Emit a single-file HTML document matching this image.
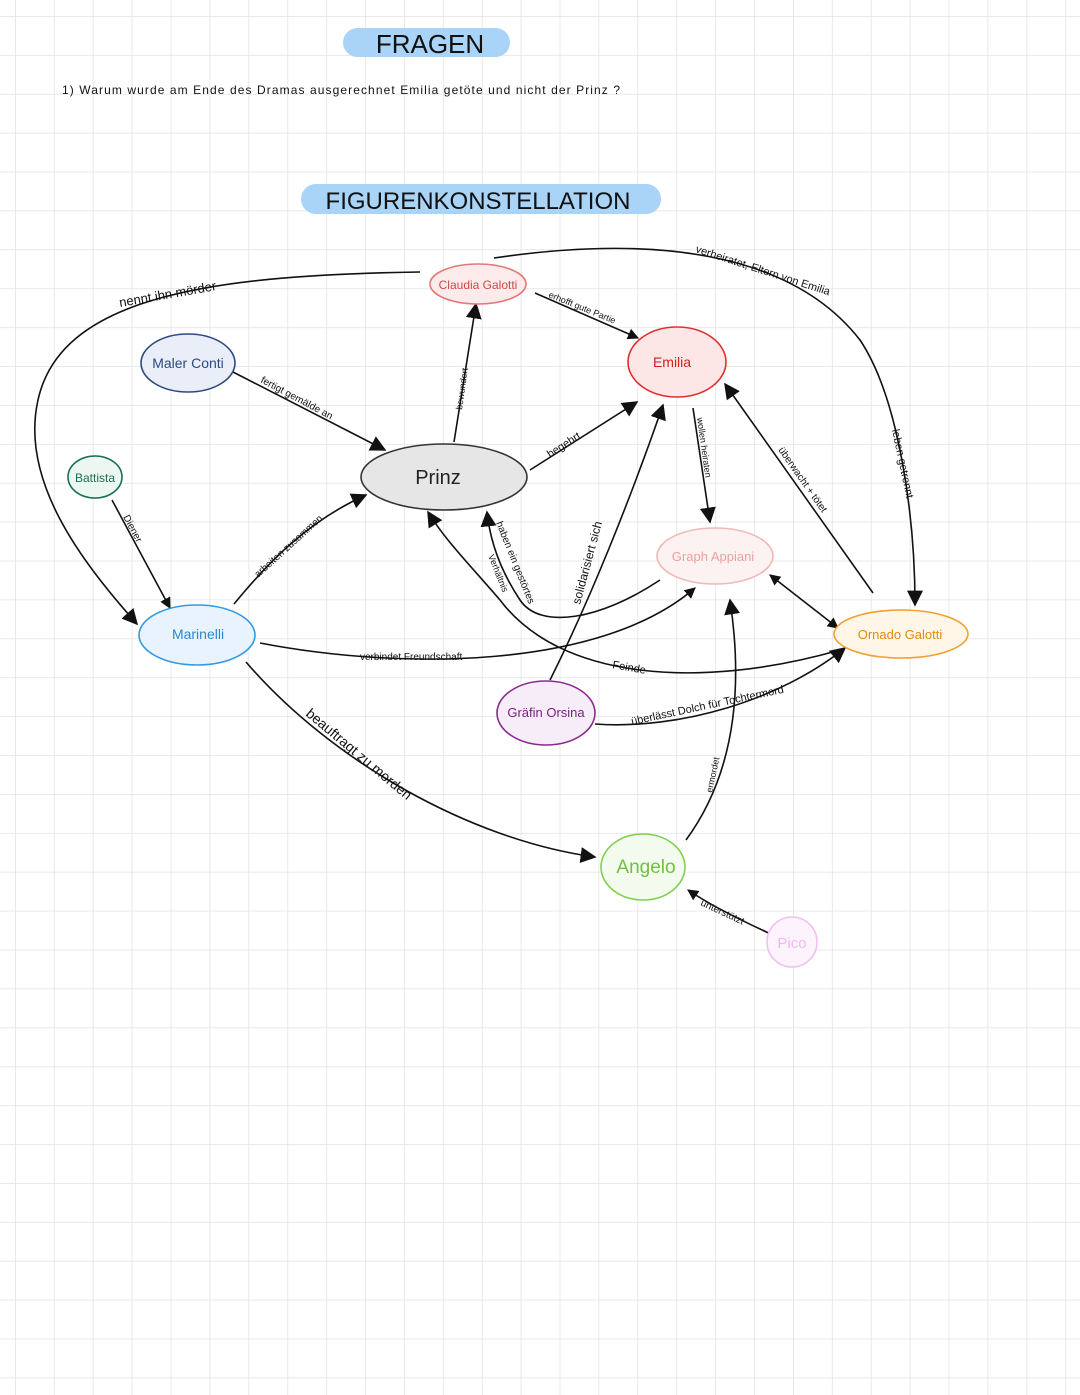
<!DOCTYPE html>
<html><head><meta charset="utf-8"><style>
html,body{margin:0;padding:0;background:#fff}
svg{display:block}
text{font-family:"Liberation Sans",sans-serif}
</style></head><body>
<svg width="1080" height="1395" viewBox="0 0 1080 1395" xmlns="http://www.w3.org/2000/svg">
<defs>
<pattern id="g" x="15" y="16" width="38.9" height="38.9" patternUnits="userSpaceOnUse">
<path d="M0 0H38.9M0 0V38.9" stroke="#e2e2e2" stroke-width="1.5" fill="none"/>
</pattern>
<marker id="a" viewBox="0 0 10 10" refX="9" refY="5" markerWidth="7" markerHeight="7" orient="auto-start-reverse"><path d="M0 0L10 5L0 10z" fill="#111"/></marker>
<marker id="b" viewBox="0 0 10 10" refX="9" refY="5" markerWidth="10" markerHeight="10" orient="auto-start-reverse"><path d="M0 0L10 5L0 10z" fill="#111"/></marker>
</defs>
<rect width="1080" height="1395" fill="#fff"/>
<rect width="1080" height="1395" fill="url(#g)"/>

<rect x="343" y="28" width="167" height="29" rx="14.5" fill="#a9d3f7"/>
<text x="430" y="53" font-size="26" text-anchor="middle" fill="#111">FRAGEN</text>
<text x="62" y="94" font-size="12" fill="#111" textLength="558" lengthAdjust="spacing">1) Warum  wurde   am  Ende  des Dramas   ausgerechnet   Emilia   getöte   und   nicht   der  Prinz ?</text>
<rect x="301" y="184" width="360" height="30" rx="15" fill="#a9d3f7"/>
<text x="478" y="209" font-size="24" text-anchor="middle" fill="#111">FIGURENKONSTELLATION</text>

<g fill="none" stroke="#111" stroke-width="1.6">
<path d="M420 272 C200 275 60 300 38 400 C20 480 80 560 137 624" marker-end="url(#b)"/>
<path d="M494 258 C650 235 790 250 860 340 C900 400 915 520 915 605" marker-end="url(#b)"/>
<path d="M535 293 L638 338" marker-end="url(#a)"/>
<path d="M454 442 L476 304" marker-end="url(#b)"/>
<path d="M233 372 L385 450" marker-end="url(#b)"/>
<path d="M530 470 L637 402" marker-end="url(#b)"/>
<path d="M693 408 L710 522" marker-end="url(#b)"/>
<path d="M873 593 L725 384" marker-end="url(#b)"/>
<path d="M112 500 L170 608" marker-end="url(#a)"/>
<path d="M234 604 C270 560 310 520 366 495" marker-end="url(#b)"/>
<path d="M260 643 C400 670 600 670 695 588" marker-end="url(#a)"/>
<path d="M660 580 C600 620 540 630 520 600 C500 570 490 540 487 512" marker-end="url(#b)"/>
<path d="M550 680 C590 600 630 500 663 405" marker-end="url(#b)"/>
<path d="M840 650 C700 690 560 680 500 600 C470 565 445 540 428 512" marker-end="url(#b)"/>
<path d="M770 575 L838 628" marker-end="url(#a)" marker-start="url(#a)"/>
<path d="M595 724 C680 730 780 700 845 648" marker-end="url(#b)"/>
<path d="M246 662 C330 760 470 840 595 857" marker-end="url(#b)"/>
<path d="M686 840 C730 780 745 700 730 600" marker-end="url(#b)"/>
<path d="M773 935 C740 920 710 905 688 890" marker-end="url(#a)"/>
</g>

<g stroke-width="1.6">
<ellipse cx="478" cy="284" rx="48" ry="20" fill="#fdeaea" stroke="#e37a7a"/>
<ellipse cx="677" cy="362" rx="49" ry="35" fill="#fde6e6" stroke="#e02e2e"/>
<ellipse cx="444" cy="477" rx="83" ry="33" fill="#e6e6e6" stroke="#333"/>
<ellipse cx="188" cy="363" rx="47" ry="29" fill="#e9eef8" stroke="#2c4a80"/>
<ellipse cx="95" cy="477" rx="27" ry="21" fill="#ecf7f1" stroke="#1a7050"/>
<ellipse cx="197" cy="635" rx="58" ry="30" fill="#e8f3fd" stroke="#3399e0"/>
<ellipse cx="715" cy="556" rx="58" ry="28" fill="#fdf2f2" stroke="#f0b8b8"/>
<ellipse cx="901" cy="634" rx="67" ry="24" fill="#fff6e8" stroke="#f0a030"/>
<ellipse cx="546" cy="713" rx="49" ry="32" fill="#f6edf8" stroke="#8a2a90"/>
<ellipse cx="643" cy="867" rx="42" ry="33" fill="#f3fbee" stroke="#80d050"/>
<ellipse cx="792" cy="942" rx="25" ry="25" fill="#fdf3fd" stroke="#f0c0f0"/>
</g>

<g text-anchor="middle">
<text x="478" y="289" font-size="12" fill="#d04848">Claudia  Galotti</text>
<text x="672" y="367" font-size="14" fill="#d02020">Emilia</text>
<text x="438" y="484" font-size="20" fill="#222">Prinz</text>
<text x="188" y="368" font-size="14" fill="#2c4a80">Maler  Conti</text>
<text x="95" y="482" font-size="12" fill="#1a7050">Battista</text>
<text x="198" y="639" font-size="14" fill="#2a88d0">Marinelli</text>
<text x="713" y="561" font-size="13" fill="#eea0a0">Graph   Appiani</text>
<text x="900" y="639" font-size="13" fill="#e08a10">Ornado  Galotti</text>
<text x="546" y="717" font-size="13" fill="#7a2080">Gräfin  Orsina</text>
<text x="646" y="873" font-size="19" fill="#70c040">Angelo</text>
<text x="792" y="948" font-size="15" fill="#f0b8f0">Pico</text>
</g>

<g font-size="11" fill="#111">
<text x="120" y="307" transform="rotate(-10 120 307)" font-size="13">nennt  ihn   mörder</text>
<text x="695" y="252" transform="rotate(18 695 252)">verheiratet, Eltern  von  Emilia</text>
<text x="548" y="297" transform="rotate(22 548 297)" font-size="9">erhofft gute  Partie</text>
<text x="462" y="410" transform="rotate(-82 462 410)" font-size="9">bewundert</text>
<text x="260" y="382" transform="rotate(28 260 382)" font-size="10">fertigt  gemälde  an</text>
<text x="550" y="458" transform="rotate(-33 550 458)">begehrt</text>
<text x="697" y="418" transform="rotate(82 697 418)" font-size="9">wollen   heiraten</text>
<text x="778" y="450" transform="rotate(55 778 450)" font-size="10">überwacht + tötet</text>
<text x="892" y="430" transform="rotate(78 892 430)">leben  getrennt</text>
<text x="123" y="517" transform="rotate(62 123 517)" font-size="10">Diener</text>
<text x="258" y="578" transform="rotate(-42 258 578)" font-size="10">arbeiten  zusammen</text>
<text x="360" y="660" font-size="10">verbindet  Freundschaft</text>
<text x="496" y="523" transform="rotate(68 496 523)" font-size="10">haben  ein  gestörtes</text>
<text x="488" y="556" transform="rotate(68 488 556)" font-size="9">Verhältnis</text>
<text x="580" y="605" transform="rotate(-75 580 605)" font-size="12">solidarisiert   sich</text>
<text x="612" y="668" transform="rotate(10 612 668)" font-size="11">Feinde</text>
<text x="632" y="725" transform="rotate(-12 632 725)" font-size="11">überlässt  Dolch   für  Tochtermord</text>
<text x="305" y="715" transform="rotate(40 305 715)" font-size="14">beauftragt   zu  morden</text>
<text x="712" y="793" transform="rotate(-78 712 793)" font-size="9">ermordet</text>
<text x="700" y="905" transform="rotate(25 700 905)" font-size="10">unterstützt</text>
</g>
</svg>
</body></html>
